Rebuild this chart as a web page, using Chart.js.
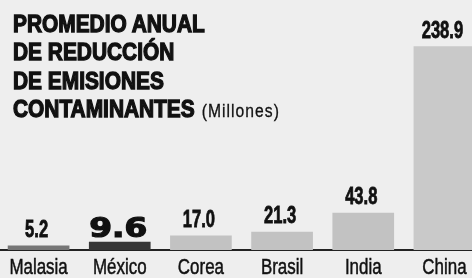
<!DOCTYPE html>
<html>
<head>
<meta charset="utf-8">
<script src="https://cdn.jsdelivr.net/npm/chart.js@4/dist/chart.umd.min.js"></script>
<style>
  html, body { margin: 0; padding: 0; background: #eeeeee; overflow: hidden; }
  #wrap { position: relative; width: 472px; height: 278px; overflow: hidden; }
  #box { position: absolute; left: -2px; top: 0; width: 487px; height: 278px; }
  #title {
    position: absolute; left: 13px; top: 10px; z-index: 2; white-space: nowrap;
    font-family: "Liberation Sans", Arial, sans-serif;
    font-weight: bold; font-size: 24px; line-height: 28.3px; color: #111;
    -webkit-text-stroke: 1.3px #111;
    transform: scaleX(0.87); transform-origin: 0 0;
  }
  #title small {
    font-weight: normal; font-size: 18px; letter-spacing: 1.2px;
    -webkit-text-stroke: 0.3px #111; margin-left: 8px;
  }
</style>
</head>
<body>
<div id="wrap">
  <div id="title">PROMEDIO ANUAL<br>DE REDUCCIÓN<br>DE EMISIONES<br>CONTAMINANTES<small>(Millones)</small></div>
  <div id="box"><canvas id="chart"></canvas></div>
</div>
<script>
// data
const countries = ["Malasia", "México", "Corea", "Brasil", "India", "China"];
const reduction = [5.2, 9.6, 17.0, 21.3, 43.8, 238.9];
const valueLabels = ["5.2", "9.6", "17.0", "21.3", "43.8", "238.9"];

const barColors = ["#767676", "#363636", "#c2c2c2", "#c2c2c2", "#c2c2c2", "#c9c9c9"];
const sans = "'Liberation Sans', Arial, sans-serif";

// condensed, slightly inked text (no narrow font installed)
function squeezeText(ctx, text, x, y, sx, ink) {
  ctx.save();
  ctx.translate(x, y);
  ctx.scale(sx, 1);
  ctx.fillText(text, 0, 0);
  if (ink) {
    ctx.lineWidth = ink;
    ctx.strokeText(text, 0, 0);
  }
  ctx.restore();
}

// numbers above the bars + country names under the axis
const labelPlugin = {
  id: "labels",
  afterDatasetsDraw(chart) {
    const ctx = chart.ctx;
    const bars = chart.getDatasetMeta(0).data;
    const xScale = chart.scales.x;
    ctx.save();
    ctx.fillStyle = "#111";
    ctx.strokeStyle = "#111";
    ctx.textAlign = "center";
    ctx.textBaseline = "alphabetic";
    bars.forEach((bar, i) => {
      if (i === 1) {
        ctx.font = "bold 26px 'DejaVu Sans', sans-serif";
        squeezeText(ctx, valueLabels[i], bar.x - 1.5, bar.y - 5, 1.26, 1.2);
      } else {
        ctx.font = "bold 23px " + sans;
        squeezeText(ctx, valueLabels[i], bar.x - 2, bar.y - 8.5, 0.72, 0.8);
      }
    });
    ctx.font = "22px " + sans;
    chart.data.labels.forEach((name, i) => {
      squeezeText(ctx, name, xScale.getPixelForTick(i), xScale.bottom + 24, 0.77, 0.5);
    });
    ctx.restore();
  }
};

new Chart(document.getElementById("chart"), {
  type: "bar",
  data: {
    labels: countries,
    datasets: [{
      data: reduction,
      backgroundColor: barColors,
      borderWidth: 0,
      barPercentage: 0.76,
      categoryPercentage: 1
    }]
  },
  options: {
    responsive: true,
    maintainAspectRatio: false,
    animation: false,
    layout: { padding: { top: 0, left: 0, right: 0, bottom: 28 } },
    plugins: { legend: { display: false }, tooltip: { enabled: false } },
    scales: {
      x: {
        grid: { display: false, drawTicks: false },
        border: { display: true, color: "#222", width: 2 },
        ticks: { display: false }
      },
      y: {
        display: false,
        min: 0,
        max: 293,
        grid: { display: false }
      }
    }
  },
  plugins: [labelPlugin]
});
</script>
</body>
</html>
